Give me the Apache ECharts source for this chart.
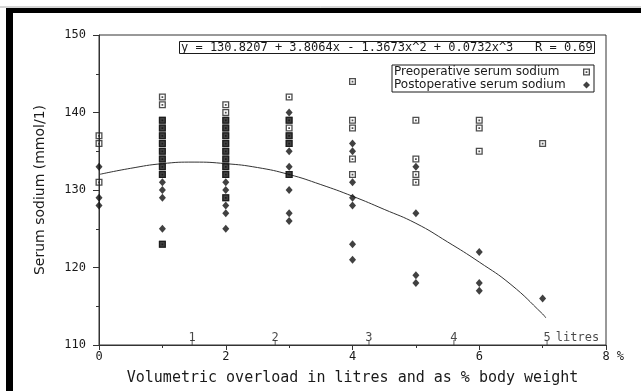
<!DOCTYPE html>
<html>
<head>
<meta charset="utf-8">
<script src="https://cdn.jsdelivr.net/npm/echarts@6/dist/echarts.min.js"></script>
<style>
  html, body { margin: 0; padding: 0; background: #fff; }
  #chart { width: 641px; height: 391px; }
</style>
</head>
<body>
<div id="chart"></div>
<script>
// x positions (% body weight) of the data columns
const colX = [0, 1, 2, 3, 4, 5, 6, 7];
// preoperative serum sodium, per column
const preByCol = [
  [137, 136, 131],
  [142, 141, 139, 138, 137, 136, 135, 134, 133, 132, 123],
  [141, 140, 139, 138, 137, 136, 135, 134, 133, 132, 129],
  [142, 139, 138, 137, 136, 132],
  [144, 139, 138, 134, 132],
  [139, 134, 132, 131],
  [139, 138, 135],
  [136]
];
// postoperative serum sodium, per column
const postByCol = [
  [133, 129, 128],
  [139, 138, 137, 136, 135, 134, 133, 132, 131, 130, 129, 125, 123],
  [139, 138, 137, 136, 135, 134, 133, 132, 131, 130, 129, 128, 127, 125],
  [140, 139, 137, 136, 135, 133, 132, 130, 127, 126],
  [136, 135, 131, 129, 128, 123, 121],
  [133, 127, 119, 118],
  [122, 118, 117],
  [116]
];
// fitted curve
const fitX = [0, 0.5, 1, 1.5, 2, 2.5, 3, 3.5, 4, 4.5, 5, 5.5, 6, 6.5, 7, 7.05];
const fitY = [132.0, 132.8, 133.4, 133.6, 133.4, 132.9, 132.0, 130.7, 129.2, 127.5, 125.7, 123.3, 120.7, 117.8, 114.0, 113.5];
// secondary litre scale, placed on the % axis
const litreAt = [1.47, 2.78, 4.26, 5.6, 7.07];
const litreLabels = ['1', '2', '3', '4', '5'];
const equation = 'y = 130.8207 + 3.8064x - 1.3673x^2 + 0.0732x^3   R = 0.69';

const MONO = '"DejaVu Sans Mono", monospace';
const SANS = '"DejaVu Sans", sans-serif';
const INK = '#1a1a1a';

function flatten(byCol){
  const out = [];
  byCol.forEach((vals, i)=>{ vals.forEach(v=>out.push([colX[i], v])); });
  return out;
}

// where a post marker sits on a pre marker the two print as one filled square
function postPoints(){
  const out = [];
  postByCol.forEach((vals, i)=>{
    vals.forEach(v=>{
      if(preByCol[i].includes(v)) out.push({ value: [colX[i], v], symbol: 'rect', symbolSize: 7 });
      else out.push([colX[i], v]);
    });
  });
  return out;
}

const openSquare = 'path://M0,0H8V8H0Z M1.5,1.5V6.5H6.5V1.5Z M3,3H5V5H3Z';

const chart = echarts.init(document.getElementById('chart'), null, { renderer: 'canvas' });
chart.setOption({
  animation: false,
  backgroundColor: '#fff',
  title: {
    text: equation,
    left: 179, top: 41,
    padding: [1, 2, 0, 2],
    borderColor: INK, borderWidth: 1,
    textStyle: { fontFamily: MONO, fontSize: 12, fontWeight: 'normal', color: INK }
  },
  legend: {
    data: ['Preoperative serum sodium', 'Postoperative serum sodium'],
    orient: 'vertical', align: 'right',
    right: 47, top: 65,
    padding: [1, 4, 1, 2], itemGap: 1,
    itemWidth: 7, itemHeight: 7,
    borderColor: INK, borderWidth: 1,
    formatter: name => '{t|' + name + '}',
    textStyle: {
      fontFamily: SANS, fontSize: 12, color: INK,
      rich: { t: { fontFamily: SANS, fontSize: 12, color: INK, width: 184, align: 'left' } }
    }
  },
  grid: {
    left: 99, right: 35, top: 35, bottom: 40,
    show: true, borderColor: '#333', borderWidth: 1
  },
  xAxis: {
    type: 'value', min: 0, max: 8, interval: 2,
    name: 'Volumetric overload in litres and as % body weight',
    nameLocation: 'middle', nameGap: 26,
    nameTextStyle: { fontFamily: MONO, fontSize: 15, color: INK },
    axisLine: { lineStyle: { color: '#333' } },
    axisTick: { length: 5, lineStyle: { color: '#333' } },
    minorTick: { show: true, splitNumber: 2, length: 3, lineStyle: { color: '#333' } },
    splitLine: { show: false },
    axisLabel: {
      margin: 6, fontFamily: MONO, fontSize: 12, color: INK,
      formatter: v => v === 8 ? '  8 %' : String(v)
    }
  },
  yAxis: {
    type: 'value', min: 110, max: 150, interval: 10,
    name: 'Serum sodium (mmol/1)',
    nameLocation: 'middle', nameGap: 52, nameRotate: 90,
    nameTextStyle: { fontFamily: SANS, fontSize: 14, color: INK },
    axisLine: { show: true, lineStyle: { color: '#333' } },
    axisTick: { show: true, length: 6, lineStyle: { color: '#333' } },
    minorTick: { show: true, splitNumber: 2, length: 3, lineStyle: { color: '#333' } },
    splitLine: { show: false },
    axisLabel: { margin: 13, fontFamily: MONO, fontSize: 12, color: INK }
  },
  graphic: [
    { type: 'rect', shape: { x: 6, y: 8, width: 635, height: 5 }, style: { fill: '#000' } },
    { type: 'rect', shape: { x: 6, y: 8, width: 7, height: 383 }, style: { fill: '#000' } },
    { type: 'line', shape: { x1: 0, y1: 7, x2: 641, y2: 7 }, style: { stroke: '#aaa', lineWidth: 1 } }
  ],
  series: [
    {
      name: 'fit', type: 'line', smooth: true, showSymbol: false,
      data: fitX.map((x, i)=>[x, fitY[i]]),
      lineStyle: { color: '#333', width: 1 }, z: 1
    },
    {
      name: 'Preoperative serum sodium', type: 'scatter',
      symbol: openSquare, symbolSize: 7,
      itemStyle: { color: '#222' },
      data: flatten(preByCol), z: 2
    },
    {
      name: 'Postoperative serum sodium', type: 'scatter',
      symbol: 'diamond', symbolSize: [7, 8],
      itemStyle: { color: '#111' },
      data: postPoints(), z: 3
    },
    {
      name: 'litres', type: 'scatter', clip: false, silent: true,
      symbol: 'rect', symbolSize: [1, 5], symbolOffset: [0, -2.5],
      itemStyle: { color: '#333' },
      label: {
        show: true, position: 'inside', offset: [0, -5],
        fontFamily: MONO, fontSize: 12, color: INK,
        formatter: p => litreLabels[p.dataIndex] || 'litres'
      },
      data: litreAt.map(x=>[x, 110]).concat([{ value: [7.55, 110], symbolSize: 0 }])
    }
  ]
});
</script>
</body>
</html>
